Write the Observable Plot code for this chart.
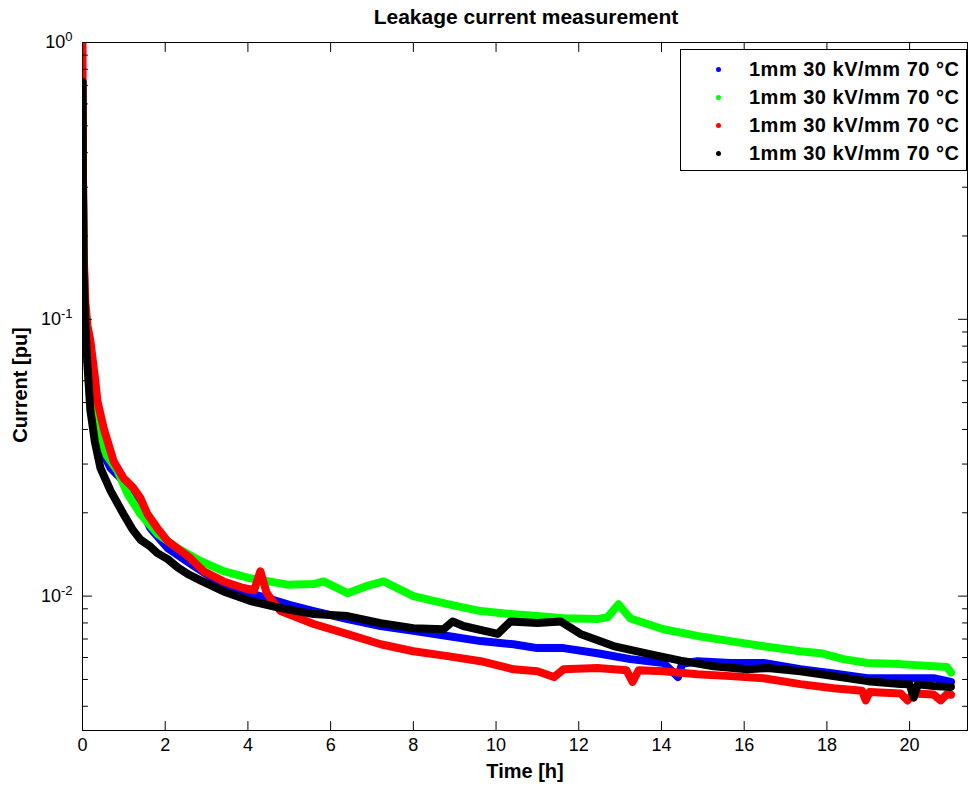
<!DOCTYPE html>
<html>
<head>
<meta charset="utf-8">
<script src="https://cdn.jsdelivr.net/npm/d3@7"></script>
<script src="https://cdn.jsdelivr.net/npm/@observablehq/plot@0.6"></script>
<style>
  body { margin: 0; background: #fff; }
  #wrap { position: relative; width: 969px; height: 787px; font-family: "Liberation Sans", Arial, sans-serif; }
  #legend { position: absolute; left: 680px; top: 49px; width: 287px; height: 122px; border: 1px solid #000; background: #fff; box-sizing: border-box; }
  .lg-row { position: absolute; left: 0; height: 24px; width: 100%; }
  .lg-dot { position: absolute; left: 35px; top: 10px; width: 5px; height: 5px; border-radius: 50%; }
  .lg-txt { position: absolute; left: 68px; top: 0; font-size: 20px; letter-spacing: 0.5px; font-weight: bold; line-height: 24px; white-space: nowrap; color: #000; }
</style>
</head>
<body>
<div id="wrap"><div id="legend"></div></div>
<script>
// ---- text ----
const titleText = "Leakage current measurement";
const xLabel = "Time [h]";
const yLabel = "Current [pu]";
const seriesIds = ["s1", "s2", "s3", "s4"];
const seriesNames = ["1mm 30 kV/mm 70 °C", "1mm 30 kV/mm 70 °C", "1mm 30 kV/mm 70 °C", "1mm 30 kV/mm 70 °C"];
const seriesColors = ["#0000ff", "#00ff00", "#ff0000", "#000000"];

// ---- ticks ----
const xTicks = [0, 2, 4, 6, 8, 10, 12, 14, 16, 18, 20];
const yMajor = [0.01, 0.1, 1];
const yMajorLabels = ["10^-2", "10^-1", "10^0"];
const yMinor = [0.004, 0.005, 0.006, 0.007, 0.008, 0.009, 0.02, 0.03, 0.04, 0.05, 0.06, 0.07, 0.08, 0.09, 0.2, 0.3, 0.4, 0.5, 0.6, 0.7, 0.8, 0.9];

// ---- series (time in h, current in pu) ----
const blueT = [0, 0.01, 0.03, 0.07, 0.12, 0.2, 0.3, 0.45, 0.68, 0.99, 1.33, 1.64, 2.06, 2.61, 3.26, 3.89, 4.5, 5.0, 5.59, 6.41, 7.21, 8.0, 8.83, 9.63, 10.42, 11.0, 11.63, 12.45, 13.25, 14.05, 14.4, 14.5, 14.87, 15.67, 16.47, 17.36, 18.16, 18.98, 19.78, 20.58, 21.0];
const blueV = [0.72, 0.35, 0.16, 0.1, 0.075, 0.055, 0.043, 0.034, 0.029, 0.0261, 0.0221, 0.0176, 0.0149, 0.0131, 0.0113, 0.0104, 0.0098, 0.0093, 0.00883, 0.00826, 0.0078, 0.0075, 0.00718, 0.00688, 0.0067, 0.00649, 0.00649, 0.00622, 0.00592, 0.00573, 0.0051, 0.0057, 0.00582, 0.00573, 0.00573, 0.00545, 0.00525, 0.00505, 0.00505, 0.00505, 0.0049];

const greenT = [0, 0.01, 0.03, 0.07, 0.12, 0.2, 0.3, 0.45, 0.6, 0.85, 1.09, 1.4, 1.81, 2.3, 2.85, 3.41, 4.06, 4.96, 5.59, 5.83, 6.41, 6.89, 7.28, 8.0, 8.83, 9.63, 10.42, 11.0, 11.63, 12.45, 12.7, 12.96, 13.25, 14.05, 14.87, 15.67, 16.47, 17.36, 17.9, 18.4, 18.98, 19.78, 20.58, 20.9, 21.0];
const greenV = [0.6, 0.3, 0.15, 0.1, 0.075, 0.056, 0.045, 0.036, 0.032, 0.0283, 0.0234, 0.0198, 0.0168, 0.0149, 0.0134, 0.0123, 0.0116, 0.011, 0.01105, 0.0113, 0.01025, 0.0109, 0.0113, 0.01, 0.00935, 0.00883, 0.0086, 0.00847, 0.00832, 0.00826, 0.0084, 0.00935, 0.0083, 0.00759, 0.00718, 0.00688, 0.00659, 0.00632, 0.0062, 0.00592, 0.00573, 0.00568, 0.00558, 0.00555, 0.0053];

const redT = [0, 0.005, 0.01, 0.03, 0.07, 0.12, 0.19, 0.31, 0.36, 0.51, 0.75, 0.99, 1.23, 1.4, 1.57, 1.81, 2.06, 2.37, 2.61, 2.93, 3.41, 3.89, 4.15, 4.3, 4.45, 4.55, 4.79, 5.59, 6.41, 7.21, 8.0, 8.83, 9.63, 10.42, 11.0, 11.4, 11.63, 12.45, 13.15, 13.3, 13.45, 14.05, 14.87, 15.67, 16.47, 17.36, 18.16, 18.85, 18.94, 19.03, 19.78, 19.95, 20.1, 20.58, 20.75, 20.9, 21.0];
const redV = [1.0, 0.6, 0.35, 0.17, 0.115, 0.095, 0.0837, 0.06, 0.0507, 0.0405, 0.0308, 0.0267, 0.0246, 0.0226, 0.0198, 0.0176, 0.0158, 0.0146, 0.0137, 0.0123, 0.0113, 0.0107, 0.0105, 0.0123, 0.0103, 0.0098, 0.00883, 0.00793, 0.00729, 0.0067, 0.00632, 0.00607, 0.00582, 0.00544, 0.00535, 0.0051, 0.00544, 0.0055, 0.0054, 0.0049, 0.0054, 0.00535, 0.00522, 0.00514, 0.00505, 0.00481, 0.00465, 0.00455, 0.0042, 0.0045, 0.00445, 0.0042, 0.00445, 0.00441, 0.0042, 0.00442, 0.0044];

const blackT = [0, 0.01, 0.03, 0.07, 0.12, 0.19, 0.3, 0.435, 0.68, 0.99, 1.2, 1.4, 1.64, 1.81, 2.06, 2.3, 2.55, 2.85, 3.41, 4.06, 4.79, 5.59, 6.41, 7.21, 8.0, 8.73, 8.95, 9.21, 10.04, 10.35, 11.0, 11.56, 12.04, 12.84, 13.66, 14.46, 15.26, 16.08, 16.57, 17.36, 18.16, 18.98, 19.78, 20.0, 20.1, 20.2, 20.58, 21.0];
const blackV = [0.72, 0.3, 0.14, 0.095, 0.068, 0.047, 0.036, 0.029, 0.024, 0.0198, 0.0175, 0.0160, 0.0151, 0.0143, 0.0136, 0.0127, 0.0120, 0.0114, 0.0104, 0.0096, 0.00905, 0.00861, 0.00847, 0.00798, 0.00766, 0.00759, 0.0081, 0.0078, 0.0073, 0.0081, 0.008, 0.0081, 0.0073, 0.0066, 0.0062, 0.00585, 0.00558, 0.00544, 0.0055, 0.00535, 0.00514, 0.00493, 0.00481, 0.0048, 0.0043, 0.0048, 0.00473, 0.0047];

const seriesT = [blueT, greenT, redT, blackT];
const seriesV = [blueV, greenV, redV, blackV];
const rows = [];
seriesIds.forEach((id, k) => seriesT[k].forEach((t, i) => rows.push({series: id, t, v: seriesV[k][i]})));

const tickShape = {draw(ctx, l) { ctx.moveTo(0, 0); ctx.lineTo(0, -l); }};
const tickOpts = {anchor: "start", shape: tickShape, stroke: "#000", strokeWidth: 1};

const chart = Plot.plot({
  width: 969, height: 787,
  marginLeft: 82, marginRight: 2, marginTop: 42, marginBottom: 57,
  style: {fontFamily: "'Liberation Sans', Arial, sans-serif", fontSize: "18px", color: "#000", background: "#fff"},
  x: {domain: [0, 21.4], label: null},
  y: {type: "log", domain: [0.00327, 1], label: null},
  color: {domain: seriesIds, range: seriesColors},
  marks: [
    Plot.line(rows, {x: "t", y: "v", z: "series", stroke: "series", strokeWidth: 8, strokeLinejoin: "round", strokeLinecap: "round", clip: true}),
    Plot.frame({stroke: "#000", strokeWidth: 1}),
    Plot.vector(yMajor, {y: d => d, frameAnchor: "left", rotate: 90, length: 9, ...tickOpts}),
    Plot.vector(yMajor, {y: d => d, frameAnchor: "right", rotate: -90, length: 9, ...tickOpts}),
    Plot.vector(yMinor, {y: d => d, frameAnchor: "left", rotate: 90, length: 5, ...tickOpts}),
    Plot.vector(yMinor, {y: d => d, frameAnchor: "right", rotate: -90, length: 5, ...tickOpts}),
    Plot.vector(xTicks, {x: d => d, frameAnchor: "bottom", rotate: 0, length: 9, ...tickOpts}),
    Plot.vector(xTicks, {x: d => d, frameAnchor: "top", rotate: 180, length: 9, ...tickOpts}),
    Plot.axisX(xTicks, {tickSize: 0, tickPadding: 8, tickFormat: d => String(d), fontSize: 18, label: null}),
    Plot.axisY(yMajor, {tickSize: 0, tickPadding: 10, tickFormat: d => yMajorLabels[yMajor.indexOf(d)], fontSize: 18, label: null})
  ]
});

const svg = d3.select(chart);
// superscript exponents on log tick labels
svg.selectAll('g[aria-label="y-axis tick label"] text').each(function() {
  const s = this.textContent;
  const parts = s.split("^");
  if (parts.length === 2) {
    const t = d3.select(this);
    t.text(parts[0]);
    t.append("tspan").attr("dy", "-0.55em").attr("font-size", 13).text(parts[1]);
  }
});
// title and axis titles
svg.append("text").attr("x", 526).attr("y", 24).attr("text-anchor", "middle")
  .attr("font-size", 21).attr("font-weight", "bold").attr("fill", "#000").text(titleText);
svg.append("text").attr("x", 525).attr("y", 778).attr("text-anchor", "middle")
  .attr("font-size", 20).attr("font-weight", "bold").attr("fill", "#000").text(xLabel);
svg.append("text").attr("transform", "translate(27,385) rotate(-90)").attr("text-anchor", "middle")
  .attr("font-size", 20).attr("font-weight", "bold").attr("fill", "#000").text(yLabel);

document.getElementById("wrap").prepend(chart);

// legend
const legend = document.getElementById("legend");
const rowTops = [7, 35, 63, 91];
seriesNames.forEach((name, i) => {
  const row = document.createElement("div");
  row.className = "lg-row";
  row.style.top = rowTops[i] + "px";
  const dot = document.createElement("div");
  dot.className = "lg-dot";
  dot.style.background = seriesColors[i];
  const txt = document.createElement("div");
  txt.className = "lg-txt";
  txt.textContent = name;
  row.appendChild(dot);
  row.appendChild(txt);
  legend.appendChild(row);
});
</script>
</body>
</html>
